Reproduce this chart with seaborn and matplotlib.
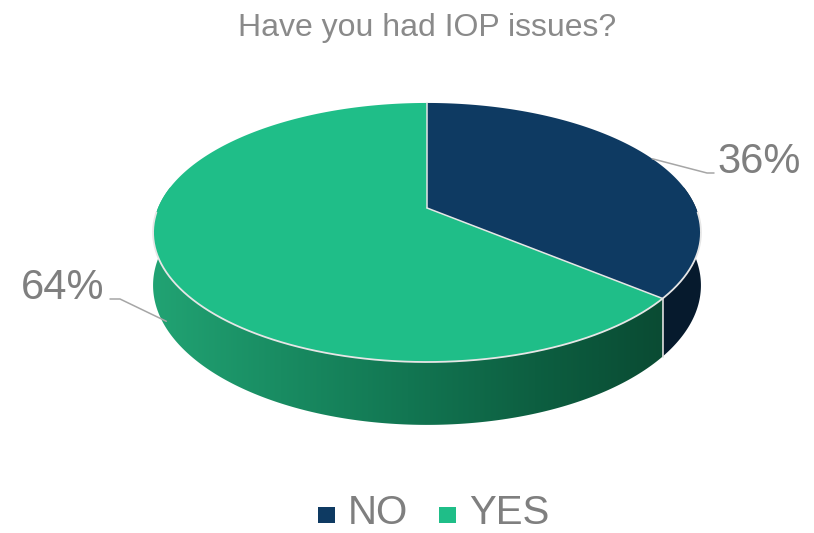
import numpy as np
import matplotlib
matplotlib.use("Agg")
import matplotlib.pyplot as plt
import seaborn as sns
from matplotlib.patches import Polygon, Rectangle
from matplotlib.colors import LinearSegmentedColormap

# Survey answers
title = "Have you had IOP issues?"
categories = ["NO", "YES"]
shares = [36, 64]

top_colors = ["#0e3a62", "#1fbe88"]
side_colors = ["#061a2d", None]          # YES side uses a gradient
text_gray = "#7f7f7f"
leader_gray = "#a6a6a6"
edge_light = "#e6e6e6"

sns.set_theme(style="white")
plt.rcParams["font.family"] = ["Liberation Sans", "DejaVu Sans"]

W, H = 814, 533
fig = plt.figure(figsize=(W / 100, H / 100), dpi=100)
ax = fig.add_axes([0, 0, 1, 1])
ax.set_xlim(0, W)
ax.set_ylim(H, 0)
ax.axis("off")

# perspective view of a tilted disc (angle measured clockwise from 12 o'clock)
CX, CY = 427.0, 208.0
RX, RY, K, DEPTH = 269.0, 124.9, 0.189, 51.0


def project(phi_deg, lower=False):
    phi = np.radians(np.asarray(phi_deg, dtype=float))
    x, y = np.sin(phi), np.cos(phi)
    w = 1 + K * y
    u = CX + RX * x / w
    v = CY - RY * y / w
    if lower:
        v = v + DEPTH / w
    return u, v


bounds = np.concatenate([[0], np.cumsum(shares)]) * 360.0 / sum(shares)

side_cmap = LinearSegmentedColormap.from_list(
    "side", ["#21a373", "#198c62", "#127652", "#0d5f41", "#0a4b33"])

# visible walls
for i, (a, b) in enumerate(zip(bounds[:-1], bounds[1:])):
    lo, hi = max(a, 80.0), min(b, 280.0)
    if lo >= hi:
        continue
    t = np.linspace(lo, hi, 200)
    ut, vt = project(t)
    ub, vb = project(t[::-1], lower=True)
    pts = np.column_stack([np.r_[ut, ub], np.r_[vt, vb]])
    if side_colors[i] is not None:
        ax.add_patch(Polygon(pts, closed=True, facecolor=side_colors[i],
                             edgecolor="none", zorder=2))
    else:
        clip = Polygon(pts, closed=True, facecolor="none", edgecolor="none")
        ax.add_patch(clip)
        grad = np.linspace(0, 1, 256).reshape(1, -1)
        im = ax.imshow(grad, cmap=side_cmap, aspect="auto",
                       extent=[pts[:, 0].min(), pts[:, 0].max(),
                               pts[:, 1].max(), pts[:, 1].min()],
                       zorder=2, interpolation="bicubic")
        im.set_clip_path(clip)

# wall seam between the slices
ua, va = project(bounds[1])
ub_, vb_ = project(bounds[1], lower=True)
ax.plot([ua, ub_], [va, vb_], color="#dcdcdc", lw=1.2, zorder=3)

# top faces
for i, (a, b) in enumerate(zip(bounds[:-1], bounds[1:])):
    t = np.linspace(a, b, 300)
    ut, vt = project(t)
    pts = np.column_stack([np.r_[CX, ut], np.r_[CY, vt]])
    ax.add_patch(Polygon(pts, closed=True, facecolor=top_colors[i],
                         edgecolor="none", zorder=4))

# light rim along the front of the top face and along the slice cuts
t = np.linspace(92, 268, 300)
ax.plot(*project(t), color=edge_light, lw=1.3, zorder=5)
for b in bounds[:-1]:
    ue, ve = project(b)
    ax.plot([CX, ue], [CY, ve], color=edge_light, lw=1.1, zorder=5)

# percentage labels with leader lines
mids = (bounds[:-1] + bounds[1:]) / 2
u0, v0 = project(mids[0])
ax.plot([u0, 707, 714], [v0, 173, 173], color=leader_gray, lw=1.1, zorder=5)
ax.text(717, 173, f"{shares[0]}%", ha="left", va="baseline",
        fontsize=30, color=text_gray, zorder=6)

u1, v1 = project(mids[1], lower=True)
ax.plot([u1 + 4, 120, 110], [v1, 299, 299], color=leader_gray, lw=1.1, zorder=5)
ax.text(104, 299, f"{shares[1]}%", ha="right", va="baseline",
        fontsize=30, color=text_gray, zorder=6)

# title
ax.text(427, 36, title, ha="center", va="baseline", fontsize=23,
        color="#8a8a8a")

# legend
legend_x = [318, 439]
for x, name, col in zip(legend_x, categories, top_colors):
    ax.add_patch(Rectangle((x, 507), 17, 16, facecolor=col, edgecolor="none"))
    ax.text(x + 30, 532.5, name, ha="left", va="bottom", fontsize=29,
            color=text_gray)

fig.savefig("out.png", dpi=100)
